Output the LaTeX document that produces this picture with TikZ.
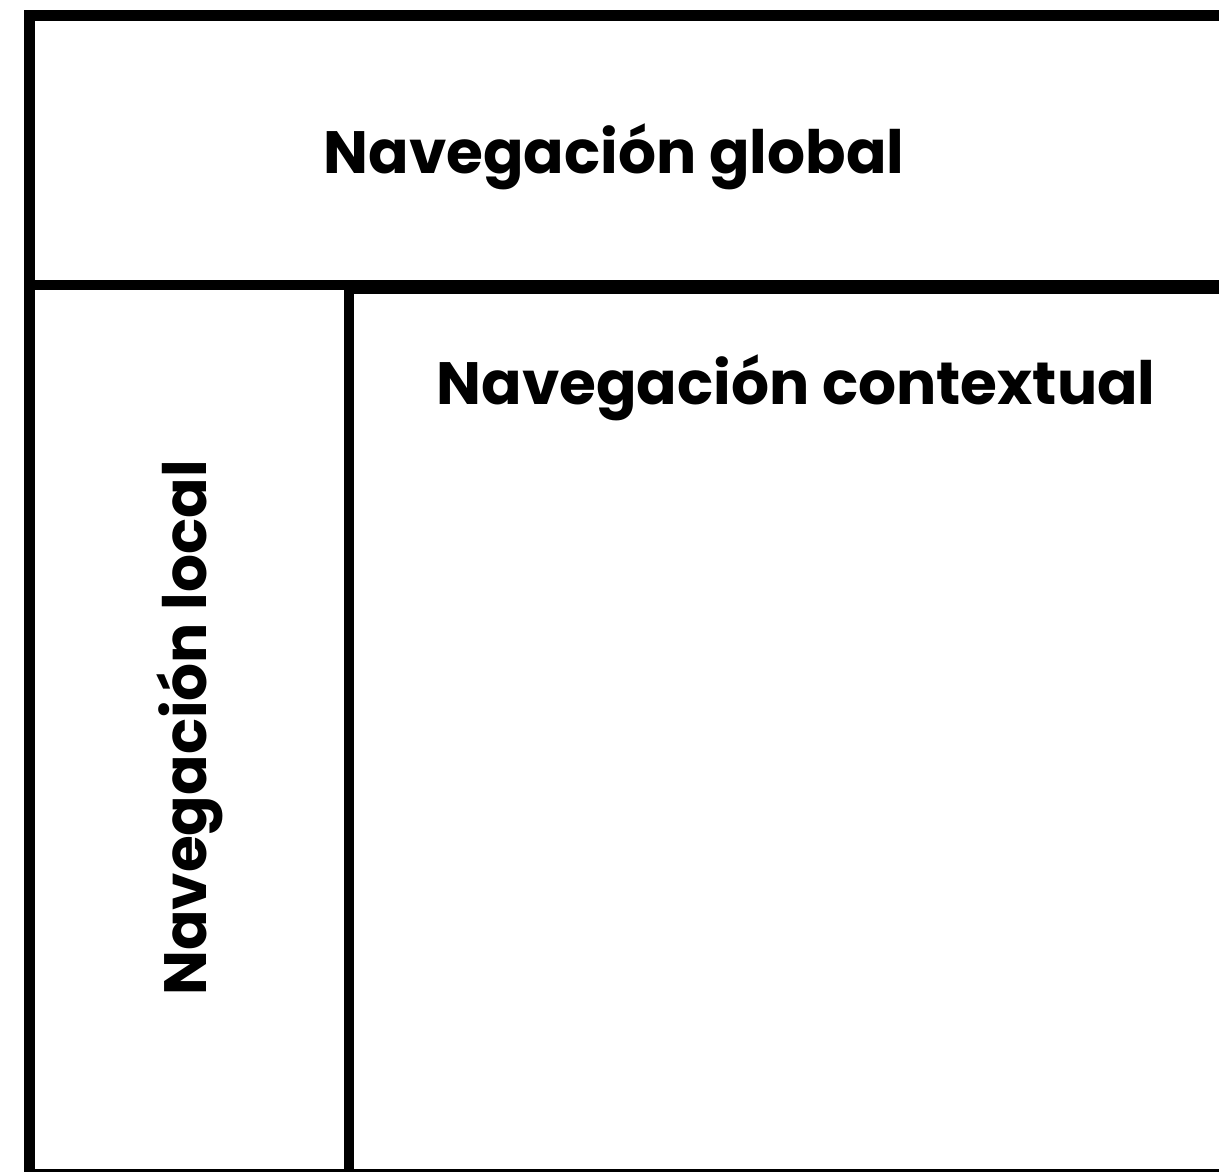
\documentclass[tikz,border=0pt]{standalone}
\usepackage{fontspec}
\setmainfont{Poppins}
\usetikzlibrary{positioning}
\tikzset{
  zone/.style  = {draw=black, line width=6.2pt},
  label/.style = {font=\bfseries\fontsize{34}{40}\selectfont, inner sep=0pt},
}

\begin{document}
\begin{tikzpicture}[x=0.02cm, y=-0.02cm]
  \useasboundingbox (0,0) rectangle (1219,1171);
  \clip (0,0) rectangle (1219,1171);

  % Global navigation
  \draw[zone] (29.5,15.5) rectangle (1260,285);
  \node[label] (global) at (614,157) {Navegación global};

  % Local navigation
  \draw[zone] (29.5,285) rectangle (349,1174);
  \node[label, rotate=90] (local) at (190,728) {Navegación local};

  % Contextual navigation
  \draw[zone] (349,288.5) rectangle (1260,1174);
  \node[label] (context) at (796,388) {Navegación contextual};
\end{tikzpicture}
\end{document}
